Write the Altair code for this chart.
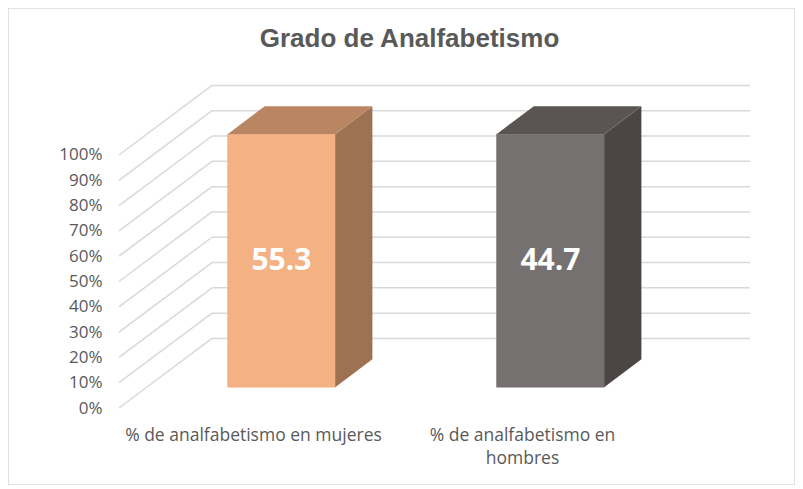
import altair as alt
import pandas as pd

# ---------------- data ----------------
TITLE = "Grado de Analfabetismo"
CATEGORIES = ["% de analfabetismo en mujeres", "% de analfabetismo en hombres"]
CATEGORY_LABELS = ["% de analfabetismo en mujeres", "% de analfabetismo en\nhombres"]
VALUES = [55.3, 44.7]
Y_TICKS = [0, 10, 20, 30, 40, 50, 60, 70, 80, 90, 100]

# ---------------- style ----------------
FRONT_COLORS = ["#F4B183", "#767171"]
TOP_COLORS = ["#BA8562", "#5A5553"]
SIDE_COLORS = ["#9C7252", "#4B4644"]
GRID_COLOR = "#D9D9D9"
TEXT_COLOR = "#595959"

# oblique projection of the 3-D frame (depth 0 = front, 1 = back wall)
DEPTH_X = 0.3457      # in category units
DEPTH_Y = 27.5        # in percentage units
BAR_HALF = 0.2        # half bar width, category units
BAR_NEAR, BAR_FAR = 0.3, 0.7
N = len(CATEGORIES)

X_DOMAIN = [-0.4126, 2.5130]
Y_DOMAIN = [-30.43, 158.10]

xs = alt.Scale(domain=X_DOMAIN, nice=False, zero=False)
ys = alt.Scale(domain=Y_DOMAIN, nice=False, zero=False)
yaxis = alt.Axis(values=Y_TICKS, labelExpr="datum.value + '%'", domain=False,
                 ticks=False, tickSize=0, grid=False, labelPadding=0, offset=-94,
                 labelFont="Open Sans", labelFontSize=17, labelColor=TEXT_COLOR,
                 title=None)

grid = pd.DataFrame({"v": Y_TICKS})
bars = pd.DataFrame({"idx": list(range(N)), "category": CATEGORIES,
                     "label": CATEGORY_LABELS, "value": VALUES})
faces = bars.merge(pd.DataFrame({"s": [BAR_NEAR, BAR_FAR]}), how="cross")


def pct(chart, groupby=("category",)):
    # 100 % stacked: each value as a share of its category total
    return chart.transform_joinaggregate(total="sum(value)", groupby=list(groupby)) \
                .transform_calculate(pct="datum.value / datum.total * 100")


side_wall = alt.Chart(grid).transform_calculate(
    xa="0", xb=str(DEPTH_X), ya="datum.v", yb=f"datum.v + {DEPTH_Y}"
).mark_rule(color=GRID_COLOR, strokeWidth=1.5).encode(
    x=alt.X("xa:Q", scale=xs, axis=None), x2="xb:Q",
    y=alt.Y("ya:Q", scale=ys, axis=yaxis), y2="yb:Q")

back_wall = alt.Chart(grid).transform_calculate(
    xa=str(DEPTH_X), xb=f"{N} + {DEPTH_X}", ya=f"datum.v + {DEPTH_Y}"
).mark_rule(color=GRID_COLOR, strokeWidth=1.5).encode(
    x=alt.X("xa:Q", scale=xs, axis=None), x2="xb:Q",
    y=alt.Y("ya:Q", scale=ys, axis=yaxis))

front = pct(alt.Chart(bars)).transform_calculate(
    xa=f"datum.idx + 0.5 - {BAR_HALF} + {BAR_NEAR * DEPTH_X}",
    xb=f"datum.idx + 0.5 + {BAR_HALF} + {BAR_NEAR * DEPTH_X}",
    ya=f"{BAR_NEAR * DEPTH_Y}",
    yb=f"datum.pct + {BAR_NEAR * DEPTH_Y}",
).mark_rect(strokeWidth=0.6).encode(
    x=alt.X("xa:Q", scale=xs, axis=None), x2="xb:Q",
    y=alt.Y("ya:Q", scale=ys, axis=yaxis), y2="yb:Q",
    color=alt.Color("category:N", scale=alt.Scale(domain=CATEGORIES, range=FRONT_COLORS), legend=None),
    stroke=alt.Stroke("category:N", scale=alt.Scale(domain=CATEGORIES, range=FRONT_COLORS), legend=None))

side = pct(alt.Chart(faces), ("category", "s")).transform_calculate(
    xa=f"datum.idx + 0.5 + {BAR_HALF} + datum.s * {DEPTH_X}",
    ya=f"datum.s * {DEPTH_Y}",
    yb=f"datum.pct + datum.s * {DEPTH_Y}",
).mark_area(strokeWidth=0.6).encode(
    x=alt.X("xa:Q", scale=xs, axis=None),
    y=alt.Y("yb:Q", scale=ys, axis=yaxis), y2="ya:Q",
    detail="category:N",
    color=alt.Color("category:N", scale=alt.Scale(domain=CATEGORIES, range=SIDE_COLORS), legend=None))

top = pct(alt.Chart(faces), ("category", "s")).transform_calculate(
    xa=f"datum.idx + 0.5 - {BAR_HALF} + datum.s * {DEPTH_X}",
    xb=f"datum.idx + 0.5 + {BAR_HALF} + datum.s * {DEPTH_X}",
    ya=f"datum.pct + datum.s * {DEPTH_Y}",
).mark_area(orient="horizontal").encode(
    y=alt.Y("ya:Q", scale=ys, axis=yaxis),
    x=alt.X("xa:Q", scale=xs, axis=None), x2="xb:Q",
    detail="category:N",
    color=alt.Color("category:N", scale=alt.Scale(domain=CATEGORIES, range=TOP_COLORS), legend=None))

value_labels = pct(alt.Chart(bars)).transform_calculate(
    xa=f"datum.idx + 0.5 + {BAR_NEAR * DEPTH_X}",
    ya=f"datum.pct / 2 + {BAR_NEAR * DEPTH_Y}",
    txt="format(datum.value, '.1f')",
).mark_text(font="Open Sans", fontSize=30, fontWeight="bold", color="white",
            align="center", baseline="middle").encode(
    x=alt.X("xa:Q", scale=xs, axis=None),
    y=alt.Y("ya:Q", scale=ys, axis=yaxis),
    text="txt:N")

cat_labels = alt.Chart(bars).transform_calculate(
    xa="datum.idx + 0.5", ya="-7.5"
).mark_text(font="Open Sans", fontSize=17.5, color=TEXT_COLOR, align="center",
            baseline="top", lineBreak="\n", lineHeight=23).encode(
    x=alt.X("xa:Q", scale=xs, axis=None),
    y=alt.Y("ya:Q", scale=ys, axis=yaxis),
    text="label:N")

chart = alt.layer(side_wall, back_wall, front, side, top, value_labels, cat_labels).resolve_scale(
    color="independent", stroke="independent"
).properties(
    width=787, height=477,
    autosize=alt.AutoSizeParams(type="none"),
    padding=0,
    background="white",
    title=alt.Title(TITLE, font="Liberation Sans", fontSize=26, fontWeight="bold",
                    color=TEXT_COLOR, offset=-44, anchor="middle", dx=8),
).configure_view(stroke="#D9D9D9", strokeWidth=1.5)

chart.save("out.html", embed_options={"renderer": "svg", "actions": False})
